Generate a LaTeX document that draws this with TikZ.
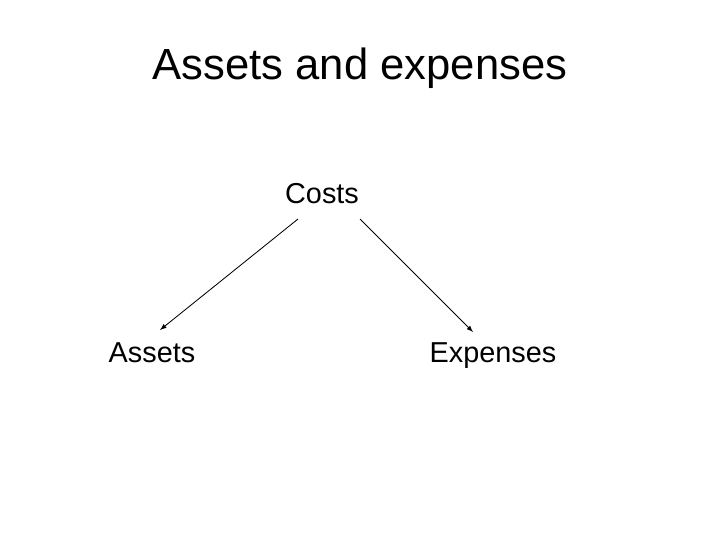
\documentclass[tikz,border=0pt]{standalone}
\usepackage{fontspec}
\setmainfont{Liberation Sans}
\usepackage{tikz}
\usetikzlibrary{arrows}
\usetikzlibrary{calc,positioning}

\begin{document}
\begin{tikzpicture}[>=latex, x=0.025cm, y=-0.025cm, line width=0.6pt]
\useasboundingbox (0,0) rectangle (720,540);
\tikzset{item/.style={anchor=base, inner sep=0pt, font=\fontsize{20.5pt}{24pt}\selectfont}}
\node (title) [anchor=base, inner sep=0pt, font=\fontsize{31pt}{36pt}\selectfont] at (360,79) {Assets and expenses};
\node (costs) [item] at (322,203) {Costs};
\node (assets) [item] at (152,362) {Assets};
\node (expenses) [item] at (493,362) {Expenses};
\draw[->] ($(costs.base)+(-24,16)$) to ($(assets.base)+(8,-32)$);
\draw[->] ($(costs.base)+(38,16)$) to ($(expenses.base)+(-20,-30)$);
\end{tikzpicture}
\end{document}
